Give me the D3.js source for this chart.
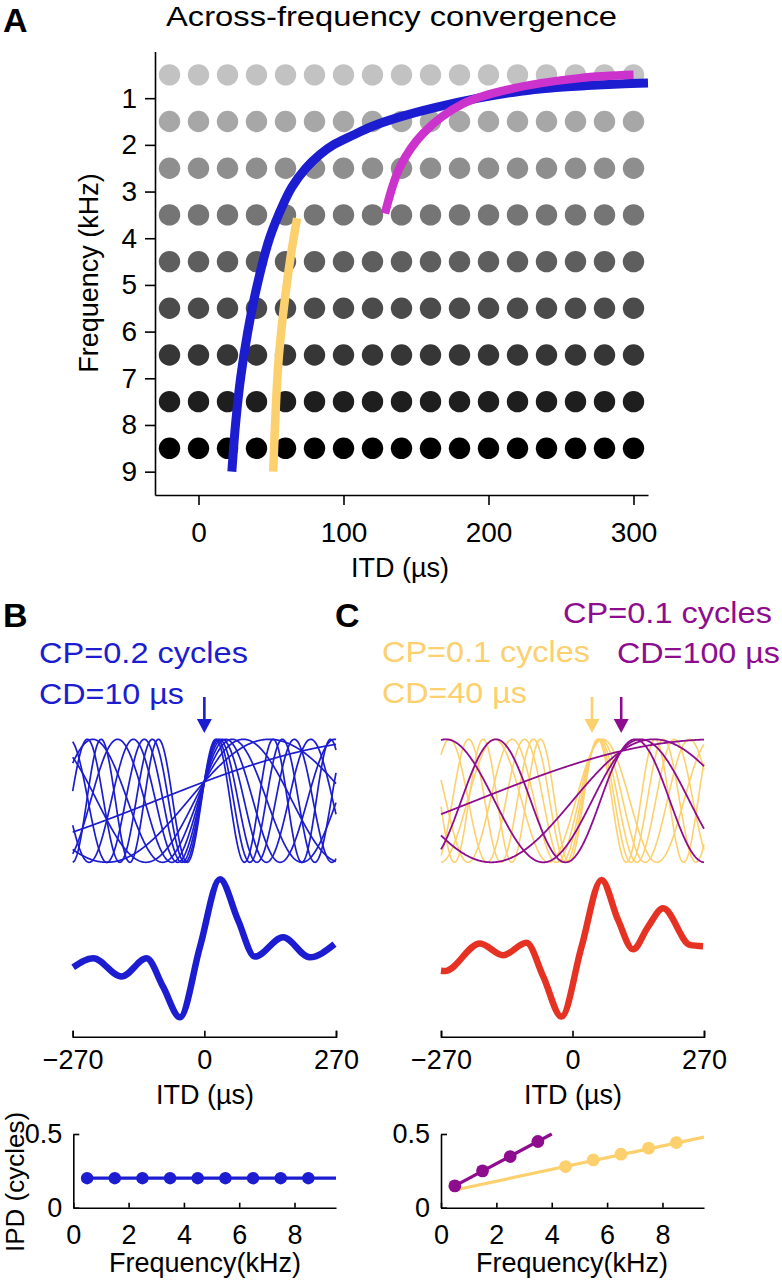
<!DOCTYPE html>
<html><head><meta charset="utf-8">
<script src="https://cdn.jsdelivr.net/npm/d3@7"></script>
<style>
html,body{margin:0;padding:0;background:#fff;}
svg{display:block;font-family:"Liberation Sans",Arial,Helvetica,sans-serif;}
</style></head>
<body>
<svg id="chart" width="782" height="1280"></svg>
<script>
// ---------------- DATA ----------------
// Panel A: grid of characteristic frequencies (kHz) and ITD columns (µs)
const gridFreqs = [0.5,1.5,2.5,3.5,4.5,5.5,6.5,7.5,8.5];
const gridITDs = [-20,0,20,40,60,80,100,120,140,160,180,200,220,240,260,280,300];
const rowGrays = [194,167,142,117,94,75,54,30,0];
const freqTicksA = [1,2,3,4,5,6,7,8,9];
const itdTicksA = [0,100,200,300];
// Panel A best-delay curves: [frequency kHz, ITD µs]
const blueCurveA = [[9.0,23],[8.0,25.5],[7.0,29],[6.0,34],[5.0,40.5],[4.0,49],[3.3,58],[2.9,64.5],[2.5,74],[2.2,84],[2.0,93],[1.8,106],[1.6,120],[1.4,139],[1.2,163],[1.0,193],[0.85,222],[0.78,243],[0.73,268],[0.695,290],[0.675,310]];
const yellowCurveA = [[9.0,51.5],[7.5,53.5],[6.5,55.5],[5.2,60],[4.4,63.5],[3.57,68]];
const magentaCurveA = [[3.47,128.6],[2.47,139],[1.75,155],[1.11,183],[0.79,217],[0.57,263],[0.50,300]];

// Panels B/C: tuning parameters (characteristic phase, convergence delay)
const freqsB = [0.5,1.5,2.5,3.5,4.5,5.5,6.5,7.5,8.5];
const freqsCpurple = [0.5,1.5,2.5,3.5];
const freqsCyellow = [4.5,5.5,6.5,7.5,8.5];
const cpB = 0.2, cdB = 0;        // curves cross at ~0 µs in the picture
const cpCp = 0.1, cdCp = 100;
const cpCy = 0.1, cdCy = 40;
const arrowB = [0];
const arrowC = [40,100];
const itdTicksBC = [-270,0,270];
// Population (summed) responses: [ITD µs, normalized response]
const sumB = [[-269,-0.275],[-228,-0.145],[-170,-0.41],[-118.5,-0.145],[-84.5,-0.56],[-50,-1],[-9,0.02],[32,1],[69,0.41],[103.5,-0.12],[161.6,0.16],[216,-0.13],[267,0.06]];
const sumC = [[-270,-0.325],[-262,-0.33],[-190,0.07],[-142.5,-0.10],[-94.5,0.08],[-60,-0.41],[-22.6,-0.99],[18.5,0.02],[59.5,0.99],[93.6,0.41],[124.4,-0.015],[155,0.31],[186,0.58],[241,0.05],[268,0.03]];
// IPD vs frequency
const ipdB = [0.2,0.2,0.2,0.2,0.2,0.2,0.2,0.2,0.2];
const ipdCpurple = [0.148,0.25,0.347,0.449];
const ipdCyellow = [0.279,0.324,0.363,0.404,0.442];
const lineB = [[0.5,0.2],[9.5,0.2]];
const lineCpurple = [[0.5,0.148],[4.0,0.5]];
const lineCyellow = [[0.5,0.12],[9.5,0.479]];
const freqTicksBottom = [0,2,4,6,8];
const ipdTicks = [0,0.5];

// ---------------- STYLE ----------------
const BLUE = "#1c1cd0", MAGENTA = "#cc33cc", YELLOW = "#fdd06e", PURPLE = "#8e0c8e", RED = "#e53223";
const svg = d3.select("#chart");

function styleAxis(g, size){
  g.selectAll("path.domain").attr("stroke","#000").attr("stroke-width",1.6);
  g.selectAll(".tick line").attr("stroke","#000").attr("stroke-width",1.6);
  g.selectAll(".tick text").attr("fill","#000").attr("font-size",size).attr("font-family",null);
}
function fit(sel, w){ return sel.attr("textLength",w).attr("lengthAdjust","spacingAndGlyphs"); }

// ---------------- PANEL A ----------------
const xA = d3.scaleLinear().domain([-30,310]).range([155,648]);
const yA = d3.scaleLinear().domain([0,9.5]).range([51.5,495]);

svg.append("text").attr("x",3).attr("y",32).attr("font-size",34).attr("font-weight","bold").text("A");
fit(svg.append("text").attr("x",391.5).attr("y",26).attr("text-anchor","middle").attr("font-size",28).text("Across-frequency convergence"),451);

const dotsA = svg.append("g");
gridFreqs.forEach((f,i)=>{
  dotsA.selectAll(null).data(gridITDs).join("circle")
    .attr("cx",d=>xA(d)).attr("cy",yA(f)).attr("r",10.7)
    .attr("fill",d3.rgb(rowGrays[i],rowGrays[i],rowGrays[i]));
});

const lineA = d3.line().x(d=>xA(d[1])).y(d=>yA(d[0])).curve(d3.curveCatmullRom.alpha(0.5));
svg.append("path").datum(blueCurveA).attr("d",lineA).attr("fill","none").attr("stroke",BLUE).attr("stroke-width",9);
svg.append("path").datum(yellowCurveA).attr("d",lineA).attr("fill","none").attr("stroke",YELLOW).attr("stroke-width",8.5);
svg.append("path").datum(magentaCurveA).attr("d",lineA).attr("fill","none").attr("stroke",MAGENTA).attr("stroke-width",8.5);

const gyA = svg.append("g").attr("transform","translate(155,0)")
  .call(d3.axisLeft(yA).tickValues(freqTicksA).tickSize(10).tickSizeOuter(0).tickPadding(8).tickFormat(d3.format("d")));
styleAxis(gyA,28);
const gxA = svg.append("g").attr("transform","translate(0,495)")
  .call(d3.axisBottom(xA).tickValues(itdTicksA).tickSize(10).tickSizeOuter(0).tickPadding(17).tickFormat(d3.format("d")));
styleAxis(gxA,28);
svg.append("text").attr("x",400).attr("y",577).attr("text-anchor","middle").attr("font-size",27).text("ITD (µs)");
svg.append("text").attr("transform","translate(98,273) rotate(-90)").attr("text-anchor","middle").attr("font-size",27).text("Frequency (kHz)");

// ---------------- PANELS B / C ----------------
svg.append("text").attr("x",3).attr("y",627).attr("font-size",34).attr("font-weight","bold").text("B");
svg.append("text").attr("x",335).attr("y",627).attr("font-size",34).attr("font-weight","bold").text("C");

fit(svg.append("text").attr("x",39).attr("y",663).attr("font-size",30).attr("fill",BLUE).text("CP=0.2 cycles"),209);
fit(svg.append("text").attr("x",39).attr("y",704).attr("font-size",30).attr("fill",BLUE).text("CD=10 µs"),145);
fit(svg.append("text").attr("x",563).attr("y",623).attr("font-size",30).attr("fill",PURPLE).text("CP=0.1 cycles"),209);
fit(svg.append("text").attr("x",617).attr("y",663).attr("font-size",30).attr("fill",PURPLE).text("CD=100 µs"),163);
fit(svg.append("text").attr("x",382).attr("y",662).attr("font-size",30).attr("fill",YELLOW).text("CP=0.1 cycles"),208);
fit(svg.append("text").attr("x",382).attr("y",703).attr("font-size",30).attr("fill",YELLOW).text("CD=40 µs"),145);

const xB = d3.scaleLinear().domain([-270,270]).range([72.7,336]);
const xC = d3.scaleLinear().domain([-270,270]).range([441,704]);
const yThin = d3.scaleLinear().domain([-1,1]).range([862.3,739.3]);
const yThick = d3.scaleLinear().domain([-1,1]).range([1017.3,879.3]);
const itdGrid = d3.range(-270,270.5,1);

function tuningPath(xs, f, cp, cd){
  const line = d3.line().x(t=>xs(t)).y(t=>yThin(Math.cos(2*Math.PI*(f*(t-cd)/1000 - cp))));
  return line(itdGrid);
}
const gThinB = svg.append("g");
freqsB.forEach(f=>{
  gThinB.append("path").attr("d",tuningPath(xB,f,cpB,cdB)).attr("fill","none").attr("stroke",BLUE).attr("stroke-width",1.7);
});
const gThinC = svg.append("g");
freqsCyellow.forEach(f=>{
  gThinC.append("path").attr("d",tuningPath(xC,f,cpCy,cdCy)).attr("fill","none").attr("stroke",YELLOW).attr("stroke-width",1.6);
});
freqsCpurple.forEach(f=>{
  gThinC.append("path").attr("d",tuningPath(xC,f,cpCp,cdCp)).attr("fill","none").attr("stroke",PURPLE).attr("stroke-width",1.8);
});

function arrow(x, color){
  svg.append("line").attr("x1",x).attr("x2",x).attr("y1",697).attr("y2",722).attr("stroke",color).attr("stroke-width",2.6);
  svg.append("path").attr("d",`M${x-7.5},719 L${x+7.5},719 L${x},733 Z`).attr("fill",color);
}
arrow(xB(arrowB[0]), BLUE);
arrow(xC(arrowC[0]), YELLOW);
arrow(xC(arrowC[1]), PURPLE);

const sumLineB = d3.line().x(d=>xB(d[0])).y(d=>yThick(d[1])).curve(d3.curveMonotoneX);
const sumLineC = d3.line().x(d=>xC(d[0])).y(d=>yThick(d[1])).curve(d3.curveMonotoneX);
svg.append("path").datum(sumB).attr("d",sumLineB).attr("fill","none").attr("stroke",BLUE).attr("stroke-width",6.5).attr("stroke-linejoin","round");
svg.append("path").datum(sumC).attr("d",sumLineC).attr("fill","none").attr("stroke",RED).attr("stroke-width",6.5).attr("stroke-linejoin","round");

const gxB = svg.append("g").attr("transform","translate(0,1036.7)")
  .call(d3.axisBottom(xB).tickValues(itdTicksBC).tickSize(-6).tickSizeOuter(-6).tickPadding(13));
styleAxis(gxB,27);
const gxC = svg.append("g").attr("transform","translate(0,1036.7)")
  .call(d3.axisBottom(xC).tickValues(itdTicksBC).tickSize(-6).tickSizeOuter(-6).tickPadding(13));
styleAxis(gxC,27);
svg.append("text").attr("x",205).attr("y",1104).attr("text-anchor","middle").attr("font-size",27).text("ITD (µs)");
svg.append("text").attr("x",573).attr("y",1104).attr("text-anchor","middle").attr("font-size",27).text("ITD (µs)");

// ---------------- IPD PANELS ----------------
const xFB = d3.scaleLinear().domain([0,9.5]).range([73.3,336]);
const xFC = d3.scaleLinear().domain([0,9.5]).range([441,704]);
const yI = d3.scaleLinear().domain([0,0.5]).range([1207.7,1134]);
const ipdFmt = d=> d===0 ? "0" : d3.format(".1f")(d);

function ipdAxes(xs){
  const gy = svg.append("g").attr("transform",`translate(${xs.range()[0]},0)`)
    .call(d3.axisLeft(yI).tickValues(ipdTicks).tickSize(-6).tickSizeOuter(0).tickPadding(11).tickFormat(ipdFmt));
  styleAxis(gy,27);
  const gx = svg.append("g").attr("transform","translate(0,1207.7)")
    .call(d3.axisBottom(xs).tickValues(freqTicksBottom).tickSize(-5).tickSizeOuter(0).tickPadding(17).tickFormat(d3.format("d")));
  styleAxis(gx,27);
}
ipdAxes(xFB);
ipdAxes(xFC);

const ipdLineB = d3.line().x(d=>xFB(d[0])).y(d=>yI(d[1]));
const ipdLineC = d3.line().x(d=>xFC(d[0])).y(d=>yI(d[1]));
svg.append("path").datum(lineB).attr("d",ipdLineB).attr("stroke",BLUE).attr("stroke-width",3.2).attr("fill","none");
svg.selectAll(null).data(ipdB).join("circle").attr("cx",(d,i)=>xFB(freqsB[i])).attr("cy",d=>yI(d)).attr("r",6.2).attr("fill",BLUE);

svg.append("path").datum(lineCyellow).attr("d",ipdLineC).attr("stroke",YELLOW).attr("stroke-width",3.2).attr("fill","none");
svg.append("path").datum(lineCpurple).attr("d",ipdLineC).attr("stroke",PURPLE).attr("stroke-width",3.2).attr("fill","none");
svg.selectAll(null).data(ipdCyellow).join("circle").attr("cx",(d,i)=>xFC(freqsCyellow[i])).attr("cy",d=>yI(d)).attr("r",6.4).attr("fill",YELLOW);
svg.selectAll(null).data(ipdCpurple).join("circle").attr("cx",(d,i)=>xFC(freqsCpurple[i])).attr("cy",d=>yI(d)).attr("r",6.4).attr("fill",PURPLE);

svg.append("text").attr("x",205).attr("y",1272).attr("text-anchor","middle").attr("font-size",27).text("Frequency(kHz)");
svg.append("text").attr("x",572).attr("y",1272).attr("text-anchor","middle").attr("font-size",27).text("Frequency(kHz)");
svg.append("text").attr("transform","translate(24,1182) rotate(-90)").attr("text-anchor","middle").attr("font-size",26).text("IPD (cycles)");
</script>
</body></html>
